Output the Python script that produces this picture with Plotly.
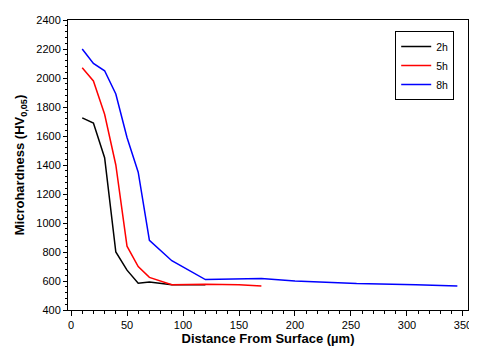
import plotly.graph_objects as go

x_2h = [10, 20, 30, 40, 50, 60, 70, 90, 120]
y_2h = [1725, 1690, 1450, 800, 675, 585, 593, 575, 575]

x_5h = [10, 20, 30, 40, 50, 60, 70, 90, 120, 150, 170]
y_5h = [2070, 1980, 1750, 1400, 840, 700, 625, 575, 578, 575, 565]

x_8h = [10, 20, 30, 40, 50, 60, 70, 90, 120, 170, 200, 255, 308, 345]
y_8h = [2200, 2100, 2050, 1890, 1590, 1350, 880, 740, 610, 618, 600, 582, 575, 565]

series = [("2h", x_2h, y_2h, "#000000"), ("5h", x_5h, y_5h, "#ff0000"), ("8h", x_8h, y_8h, "#0000ff")]

fig = go.Figure()
for name, xs, ys, c in series:
    fig.add_trace(go.Scatter(x=xs, y=ys, mode="lines", name=name,
                             line=dict(color=c, width=1.5)))

font = "Liberation Sans, Arial, sans-serif"
fig.update_layout(
    width=469, height=338,
    margin=dict(l=60, r=9, t=12, b=36),
    paper_bgcolor="white", plot_bgcolor="white",
    font=dict(family=font, size=11, color="black"),
    showlegend=True,
    legend=dict(x=0.818, y=0.962, xanchor="left", yanchor="top",
                bordercolor="black", borderwidth=1, bgcolor="white",
                font=dict(size=10.5), itemwidth=30, tracegroupgap=0),
    xaxis=dict(range=[-2.7, 354.5], tickmode="linear", tick0=0, dtick=50, automargin=False,
               ticklabeloverflow="allow",
               showgrid=False, zeroline=False, showline=True, linecolor="black",
               linewidth=1, mirror=True, ticks="outside", ticklen=5, tickcolor="black",
               minor=dict(dtick=10, ticks="outside", ticklen=3, tickcolor="black"),
               title=dict(text="<b>Distance From Surface (µm)</b>", font=dict(size=13), standoff=9)),
    yaxis=dict(range=[400, 2400], tickmode="linear", tick0=400, dtick=200, automargin=False,
               showgrid=False, zeroline=False, showline=True, linecolor="black",
               linewidth=1, mirror=True, ticks="outside", ticklen=4, tickcolor="black",
               minor=dict(dtick=40, ticks="outside", ticklen=2, tickcolor="black"),
               title=dict(text="<b>Microhardness (HV<sub>0,05</sub>)</b>", font=dict(size=13), standoff=8)),
)
fig.write_html("out.html")
